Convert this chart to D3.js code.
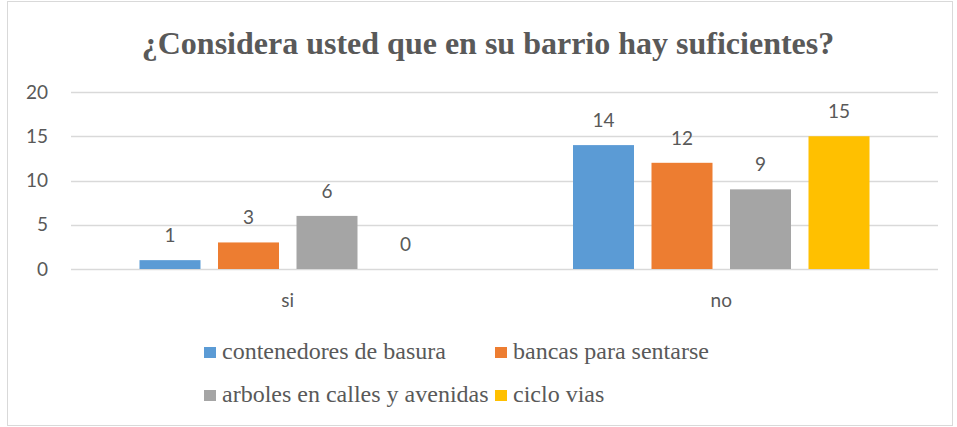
<!DOCTYPE html>
<html><head><meta charset="utf-8">
<script src="https://cdn.jsdelivr.net/npm/d3@7"></script>
<style>html,body{margin:0;padding:0;background:#fff;}svg{display:block;}</style>
</head><body>
<svg id="c" width="957" height="427"></svg>
<script>
const title = "¿Considera usted que en su barrio hay suficientes?";
const categories = ["si", "no"];
const series = ["contenedores de basura", "bancas para sentarse", "arboles en calles y avenidas", "ciclo vias"];
const colors = ["#5B9BD5", "#ED7D31", "#A5A5A5", "#FFC000"];
const contenedores = [1, 14];
const bancas = [3, 12];
const arboles = [6, 9];
const cicloVias = [0, 15];
const yTicks = [0, 5, 10, 15, 20];
const values = [contenedores, bancas, arboles, cicloVias];

const SERIF = '"Liberation Serif"';
const SANS = '"Lato"';
const svg = d3.select("#c");
const textColor = "#595959";

svg.append("rect").attr("x", 7.5).attr("y", 1.5).attr("width", 945).attr("height", 424)
  .attr("fill", "#fff").attr("stroke", "#d9d9d9").attr("stroke-width", 1);

svg.append("text").attr("x", 488).attr("y", 54).attr("text-anchor", "middle")
  .style("font-family", SERIF).style("font-weight", "bold")
  .style("font-size", "32px").attr("fill", textColor).text(title);

const left = 71, right = 938;
const y = d3.scaleLinear().domain([0, 20]).range([269, 92]);
const x0 = d3.scaleBand().domain(categories).range([left, right]);
const x1 = d3.scaleBand().domain(series).range([0, 296.5]).paddingInner(17.5 / 78.5);
const groupOffset = (x0.bandwidth() - 296.5) / 2;

const grid = svg.append("g");
grid.selectAll("line").data(yTicks).join("line")
  .attr("x1", left).attr("x2", right)
  .attr("y1", d => Math.round(y(d)) + 0.5).attr("y2", d => Math.round(y(d)) + 0.5)
  .attr("stroke", "#d9d9d9").attr("stroke-width", 1.3);

const yAxis = d3.axisLeft(y).tickValues(yTicks).tickSize(0).tickPadding(0);
const ya = svg.append("g").attr("transform", "translate(48,0)").call(yAxis);
ya.select(".domain").remove();
ya.selectAll("text").style("font-family", SANS).style("font-size", "19px").attr("fill", textColor);

const xAxis = d3.axisBottom(x0).tickSize(0).tickPadding(0);
const xa = svg.append("g").attr("transform", "translate(0,293.5)").call(xAxis);
xa.select(".domain").remove();
xa.selectAll("text").style("font-family", SANS).style("font-size", "19px").attr("fill", textColor);

series.forEach((s, si) => {
  const g = svg.append("g");
  const data = categories.map((c, ci) => ({c, v: values[si][ci]}));
  g.selectAll("rect").data(data).join("rect")
    .attr("x", d => x0(d.c) + groupOffset + x1(s))
    .attr("width", x1.bandwidth())
    .attr("y", d => y(d.v))
    .attr("height", d => y(0) - y(d.v))
    .attr("fill", colors[si]);
  g.selectAll("text").data(data).join("text")
    .attr("x", d => x0(d.c) + groupOffset + x1(s) + x1.bandwidth() / 2)
    .attr("y", d => y(d.v) - 18)
    .attr("text-anchor", "middle")
    .style("font-family", SANS).style("font-size", "19px")
    .attr("fill", textColor).text(d => d.v);
});

const legendPos = [[204, 359], [495, 359], [204, 402], [495, 402]];
series.forEach((s, i) => {
  const [lx, ly] = legendPos[i];
  svg.append("rect").attr("x", lx).attr("y", ly - 12).attr("width", 12).attr("height", 11).attr("fill", colors[i]);
  svg.append("text").attr("x", lx + 18).attr("y", ly)
    .style("font-family", SERIF).style("font-size", "24px")
    .attr("fill", textColor).text(s);
});
</script>
</body></html>
